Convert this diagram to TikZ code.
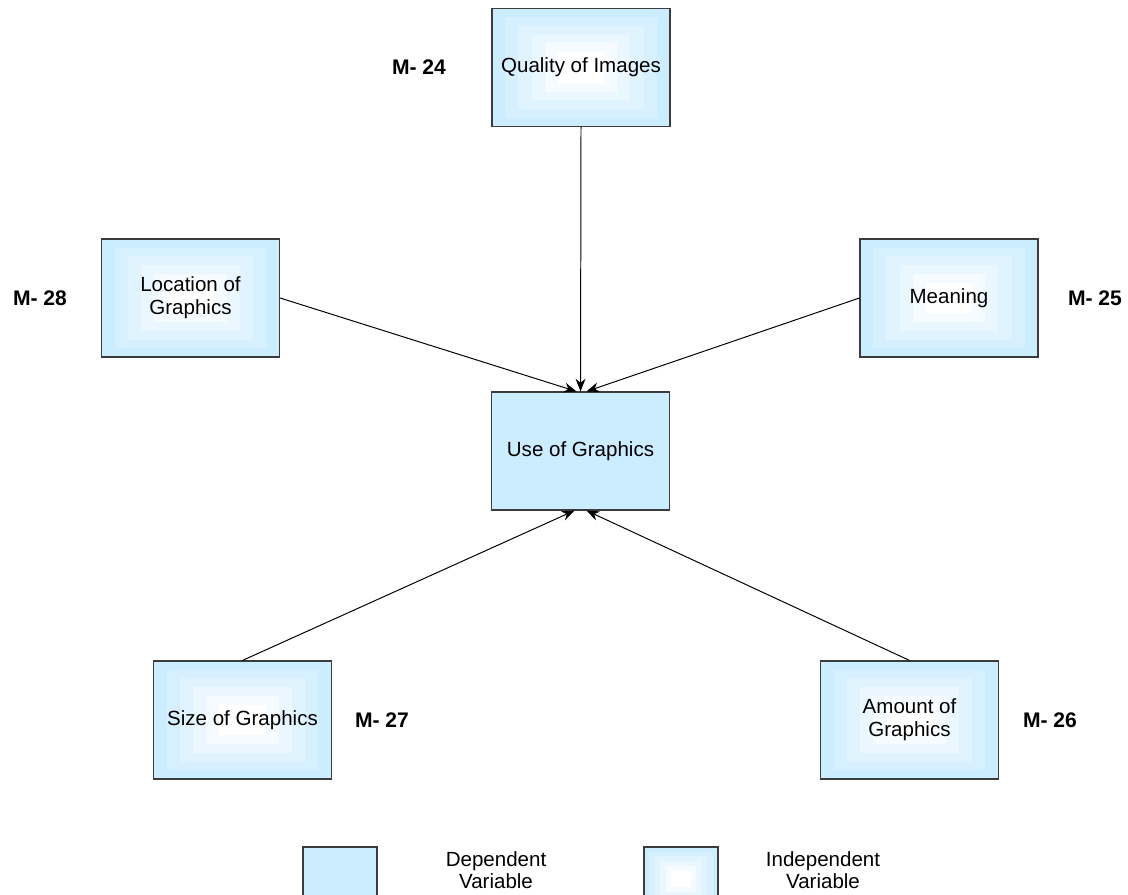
\documentclass[tikz,border=0pt]{standalone}
\usepackage{fontspec}
\setmainfont{Liberation Sans}
\usetikzlibrary{arrows.meta,positioning,calc}
\definecolor{boxblue}{RGB}{204,236,255}
\definecolor{boxline}{RGB}{60,60,60}

\tikzset{
  dep/.style={draw=boxline, line width=0.8pt, fill=boxblue, minimum width=4.45cm,
    minimum height=2.95cm, align=center, font=\fontsize{14.6}{16.5}\selectfont},
  indep/.style={dep, path picture={
      \foreach \k [evaluate=\k as \pc using {100-\k*20}] in {1,...,5}
        \fill[boxblue!\pc!white]
          ($(path picture bounding box.south west)!\k/13.5!(path picture bounding box.north east)$)
          rectangle
          ($(path picture bounding box.north east)!\k/13.5!(path picture bounding box.south west)$);
    }},
  mlabel/.style={font=\fontsize{15}{17}\selectfont\bfseries},
  keytext/.style={align=center, font=\fontsize{14.6}{16}\selectfont},
  link/.style={line width=0.7pt, -{Stealth[length=9pt,width=7pt]}}
}

\begin{document}
\begin{tikzpicture}[x=0.025cm,y=-0.025cm]
      \useasboundingbox (0,0) rectangle (1128,894);

      % factors
      \node[indep] (quality) at (581,67.5) {Quality of Images};
      \node[indep] (location) at (190.5,298) {Location of\\Graphics};
      \node[indep] (meaning) at (949,298) {Meaning};
      \node[dep] (use) at (580.5,451) {Use of Graphics};
      \node[indep] (size) at (242.5,720) {Size of Graphics};
      \node[indep] (amount) at (909.5,720) {Amount of\\Graphics};

      % model numbers
      \node[mlabel] (m24) at (419,67) {M- 24};
      \node[mlabel] (m28) at (40,298) {M- 28};
      \node[mlabel] (m25) at (1095,298) {M- 25};
      \node[mlabel] (m27) at (382,720) {M- 27};
      \node[mlabel] (m26) at (1050,720) {M- 26};

      % links
      \draw[link] (quality.south) -- (use.north);
      \draw[link] (location.east) -- ($(use.north)+(-4,0)$);
      \draw[link] (meaning.west) -- ($(use.north)+(6,0)$);
      \draw[link] (size.north) -- ($(use.south)+(-6,0)$);
      \draw[link] (amount.north) -- ($(use.south)+(6,0)$);

      % key
      \node[dep, minimum width=1.85cm, minimum height=1.6cm] (depkey) at (340,879) {};
      \node[keytext] (deptext) at (496,870) {Dependent\\Variable};
      \node[indep, minimum width=1.85cm, minimum height=1.6cm] (indepkey) at (681,879) {};
      \node[keytext] (indeptext) at (823,870) {Independent\\Variable};
\end{tikzpicture}
\end{document}
